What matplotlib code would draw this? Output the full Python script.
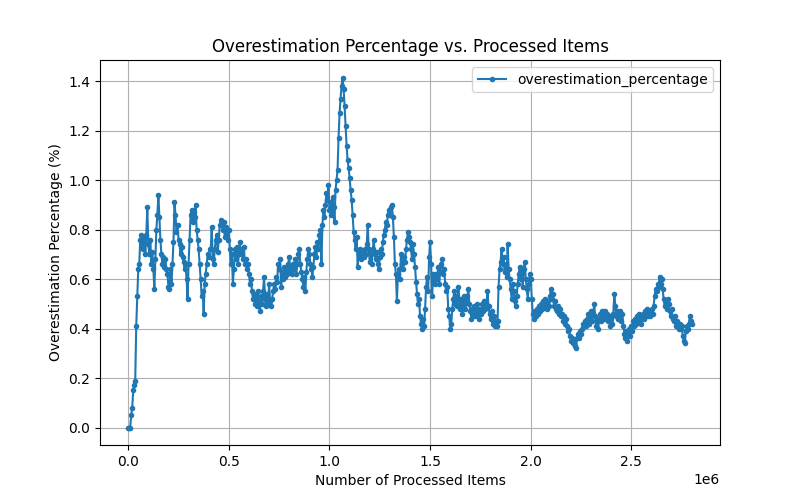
import numpy as np
import matplotlib
matplotlib.use("Agg")
import matplotlib.pyplot as plt

step = 5000
overestimation = [
    0.00, 0.00, 0.00, 0.05, 0.08, 0.15, 0.17, 0.19, 0.41, 0.53,
    0.64, 0.66, 0.76, 0.78, 0.73, 0.72, 0.77, 0.70, 0.78, 0.89,
    0.74, 0.70, 0.76, 0.66, 0.71, 0.64, 0.56, 0.68, 0.80, 0.86,
    0.94, 0.85, 0.76, 0.70, 0.66, 0.69, 0.65, 0.68, 0.64, 0.62,
    0.57, 0.56, 0.64, 0.58, 0.66, 0.75, 0.91, 0.86, 0.79, 0.82,
    0.76, 0.74, 0.70, 0.73, 0.69, 0.67, 0.64, 0.66, 0.60, 0.52,
    0.66, 0.76, 0.86, 0.88, 0.83, 0.87, 0.85, 0.90, 0.80, 0.76,
    0.72, 0.66, 0.60, 0.53, 0.55, 0.46, 0.58, 0.62, 0.66, 0.70,
    0.69, 0.72, 0.72, 0.81, 0.68, 0.66, 0.72, 0.76, 0.78, 0.71,
    0.76, 0.82, 0.84, 0.83, 0.80, 0.83, 0.77, 0.81, 0.79, 0.76,
    0.80, 0.72, 0.66, 0.70, 0.58, 0.64, 0.72, 0.68, 0.73, 0.66,
    0.70, 0.75, 0.70, 0.72, 0.68, 0.73, 0.66, 0.68, 0.64, 0.66,
    0.62, 0.58, 0.60, 0.55, 0.52, 0.54, 0.50, 0.53, 0.49, 0.55,
    0.50, 0.47, 0.53, 0.50, 0.55, 0.61, 0.52, 0.49, 0.54, 0.50,
    0.58, 0.51, 0.49, 0.52, 0.55, 0.58, 0.56, 0.61, 0.59, 0.66,
    0.64, 0.68, 0.57, 0.63, 0.60, 0.65, 0.61, 0.64, 0.62, 0.66,
    0.69, 0.63, 0.65, 0.62, 0.66, 0.64, 0.68, 0.62, 0.66, 0.70,
    0.72, 0.66, 0.63, 0.60, 0.57, 0.61, 0.55, 0.63, 0.68, 0.72,
    0.70, 0.66, 0.64, 0.61, 0.65, 0.70, 0.73, 0.69, 0.75, 0.72,
    0.78, 0.80, 0.66, 0.82, 0.88, 0.85, 0.90, 0.95, 0.92, 0.98,
    0.88, 0.91, 0.86, 0.93, 0.89, 0.83, 0.96, 1.00, 1.04, 1.17,
    1.27, 1.33, 1.38, 1.415, 1.37, 1.30, 1.22, 1.14, 1.08, 1.05,
    1.01, 0.96, 0.92, 0.86, 0.79, 0.76, 0.72, 0.77, 0.65, 0.70,
    0.72, 0.68, 0.71, 0.70, 0.69, 0.72, 0.70, 0.74, 0.82, 0.72,
    0.67, 0.70, 0.66, 0.72, 0.76, 0.70, 0.68, 0.71, 0.66, 0.64,
    0.69, 0.72, 0.70, 0.75, 0.78, 0.80, 0.83, 0.82, 0.86, 0.88,
    0.86, 0.89, 0.90, 0.85, 0.77, 0.66, 0.62, 0.51, 0.62, 0.64,
    0.60, 0.70, 0.66, 0.64, 0.69, 0.67, 0.72, 0.76, 0.79, 0.77,
    0.75, 0.72, 0.68, 0.74, 0.70, 0.65, 0.59, 0.54, 0.50, 0.52,
    0.45, 0.42, 0.40, 0.44, 0.41, 0.48, 0.57, 0.61, 0.55, 0.69,
    0.75, 0.66, 0.53, 0.62, 0.60, 0.58, 0.62, 0.60, 0.65, 0.58,
    0.63, 0.66, 0.68, 0.62, 0.64, 0.58, 0.55, 0.57, 0.48, 0.45,
    0.40, 0.42, 0.48, 0.52, 0.55, 0.50, 0.53, 0.49, 0.57, 0.52,
    0.48, 0.52, 0.46, 0.50, 0.53, 0.48, 0.51, 0.53, 0.56, 0.50,
    0.47, 0.44, 0.48, 0.46, 0.49, 0.45, 0.48, 0.50, 0.46, 0.44,
    0.48, 0.46, 0.50, 0.47, 0.51, 0.48, 0.50, 0.55, 0.49, 0.46,
    0.44, 0.47, 0.42, 0.45, 0.41, 0.43, 0.41, 0.43, 0.57, 0.64,
    0.67, 0.72, 0.66, 0.69, 0.63, 0.66, 0.61, 0.74, 0.64, 0.60,
    0.56, 0.52, 0.58, 0.55, 0.51, 0.49, 0.53, 0.58, 0.62, 0.65,
    0.60, 0.63, 0.57, 0.64, 0.67, 0.60, 0.56, 0.52, 0.58, 0.62,
    0.60, 0.52, 0.46, 0.44, 0.47, 0.45, 0.48, 0.46, 0.49, 0.47,
    0.50, 0.48, 0.51, 0.49, 0.52, 0.50, 0.48, 0.51, 0.49, 0.53,
    0.56, 0.52, 0.54, 0.49, 0.51, 0.48, 0.47, 0.49, 0.46, 0.48,
    0.45, 0.46, 0.43, 0.45, 0.42, 0.44, 0.41, 0.39, 0.40, 0.37,
    0.35, 0.36, 0.34, 0.35, 0.33, 0.32, 0.36, 0.38, 0.36, 0.39,
    0.38, 0.40, 0.42, 0.41, 0.43, 0.41, 0.44, 0.46, 0.42, 0.45,
    0.47, 0.43, 0.46, 0.50, 0.45, 0.41, 0.43, 0.40, 0.44, 0.46,
    0.43, 0.47, 0.45, 0.44, 0.47, 0.45, 0.46, 0.43, 0.45, 0.41,
    0.44, 0.42, 0.46, 0.54, 0.49, 0.45, 0.47, 0.44, 0.46, 0.47,
    0.43, 0.46, 0.41, 0.38, 0.36, 0.39, 0.35, 0.38, 0.40, 0.37,
    0.41, 0.39, 0.43, 0.41, 0.44, 0.42, 0.45, 0.43, 0.46, 0.44,
    0.42, 0.46, 0.44, 0.47, 0.45, 0.48, 0.45, 0.47, 0.45, 0.46,
    0.48, 0.46, 0.49, 0.53, 0.56, 0.55, 0.58, 0.57, 0.61, 0.58,
    0.60, 0.56, 0.52, 0.49, 0.51, 0.48, 0.52, 0.50, 0.47, 0.45,
    0.48, 0.44, 0.43, 0.45, 0.41, 0.43, 0.41, 0.40, 0.42, 0.40,
    0.41, 0.37, 0.35, 0.34, 0.39, 0.41, 0.40, 0.42, 0.45, 0.43,
    0.42,
]
processed = np.arange(len(overestimation)) * step

fig, ax = plt.subplots(figsize=(8, 5), dpi=100)
ax.plot(processed, overestimation, marker=".", label="overestimation_percentage")
ax.set_title("Overestimation Percentage vs. Processed Items")
ax.set_xlabel("Number of Processed Items")
ax.set_ylabel("Overestimation Percentage (%)")
ax.legend(loc="upper right")
ax.grid(True)
plt.savefig("out.png")
